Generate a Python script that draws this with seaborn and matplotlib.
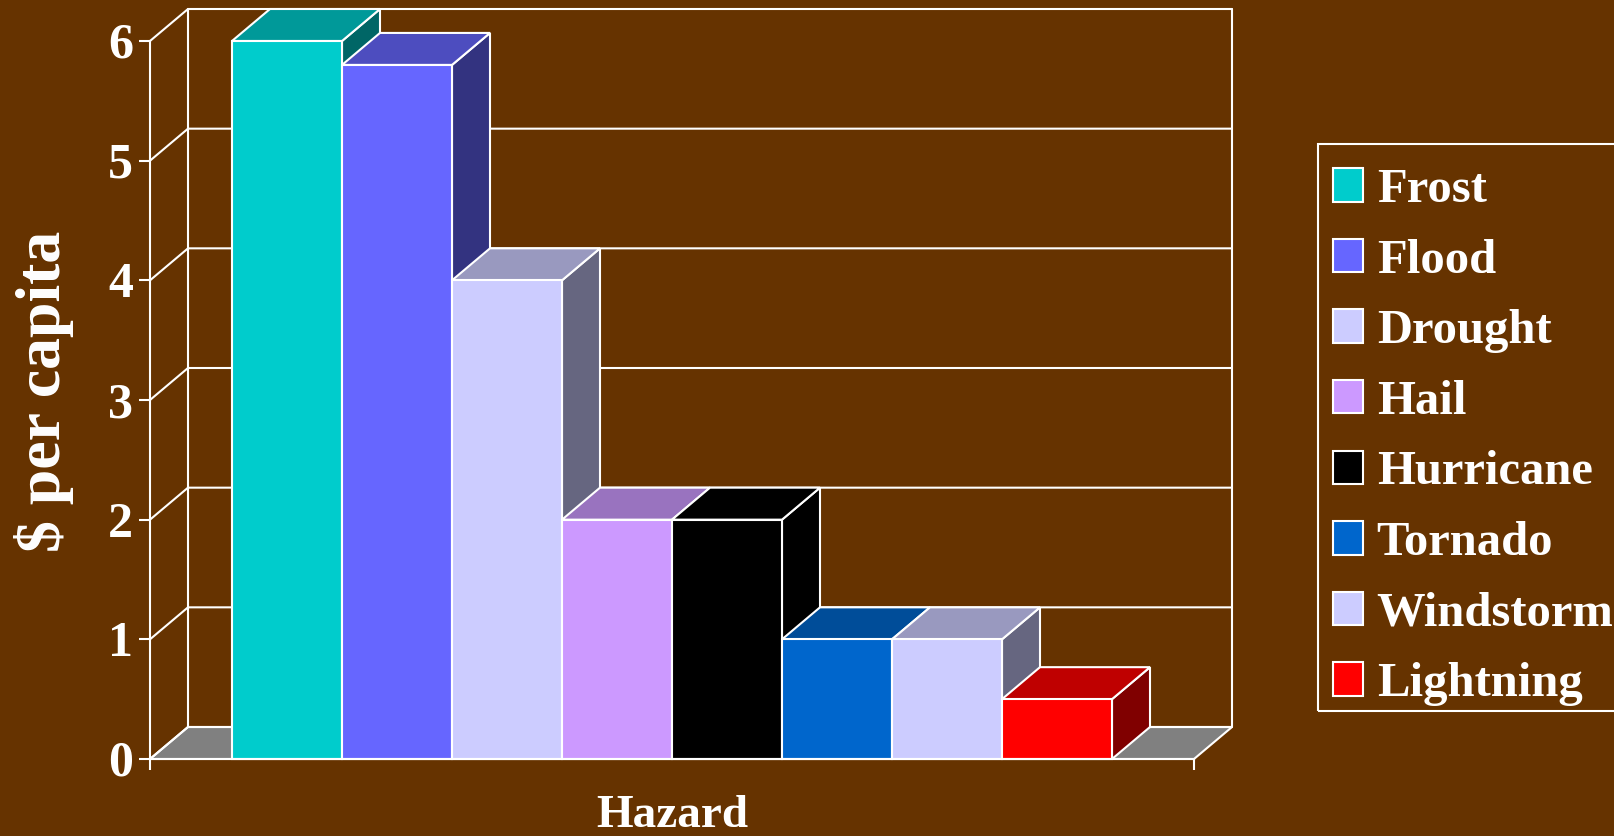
import matplotlib
matplotlib.use("Agg")
import matplotlib.pyplot as plt
import seaborn as sns
from matplotlib.colors import to_rgb
from matplotlib.patches import Polygon, Rectangle
from matplotlib.transforms import ScaledTranslation

hazards = ["Frost", "Flood", "Drought", "Hail", "Hurricane", "Tornado", "Windstorm", "Lightning"]
per_capita = [6, 5.8, 4, 2, 2, 1, 1, 0.5]
colors = ["#00CCCC", "#6666FF", "#CCCCFF", "#CC99FF", "#000000", "#0066CC", "#CCCCFF", "#FF0000"]
y_ticks = [0, 1, 2, 3, 4, 5, 6]

BG = "#663300"
W, H = 1615, 836
sns.set_theme(style="ticks")
plt.rcParams["font.family"] = ["Liberation Serif", "DejaVu Serif"]
plt.rcParams["font.weight"] = "bold"

fig = plt.figure(figsize=(W / 100, H / 100), dpi=100, facecolor=BG)
ax = fig.add_axes([150 / W, 1 - 759 / H, 1044 / W, 718 / H])
ax.set_facecolor("none")

sns.barplot(x=hazards, y=per_capita, hue=hazards, palette=colors, width=1.0, order=hazards,
            hue_order=hazards, edgecolor="white", linewidth=1.5, saturation=1, legend=True, ax=ax)

x0, x1 = -0.5 - 82 / 110, 7.5 + 82 / 110
ax.set_xlim(x0, x1)
ax.set_ylim(0, 6)
dx = 38 * (x1 - x0) / 1044
dy = 32 * 6 / 718
LW = 1.5

# floor, back wall and side wall
ax.add_patch(Polygon([(x0, 0), (x1, 0), (x1 + dx, dy), (x0 + dx, dy)], closed=True, facecolor="#808080",
                     edgecolor="white", linewidth=LW, clip_on=False, zorder=0.5))
for t in y_ticks:
    ax.plot([x0, x0 + dx, x1 + dx], [t, t + dy, t + dy], color="white", lw=LW, clip_on=False,
            zorder=0.6, solid_joinstyle="miter")
ax.plot([x0 + dx, x0 + dx], [dy, 6 + dy], color="white", lw=LW, clip_on=False, zorder=0.6)
ax.plot([x1 + dx, x1 + dx], [dy, 6 + dy], color="white", lw=LW, clip_on=False, zorder=0.6)

# depth faces of every bar
bars = [c[0] for c in ax.containers]
for i, (bar, col) in enumerate(zip(bars, colors)):
    l, w, h = bar.get_x(), bar.get_width(), bar.get_height()
    r = l + w
    rgb = to_rgb(col)
    top = tuple(v * 0.75 for v in rgb)
    side = tuple(v * 0.5 for v in rgb)
    z = 3 + i
    ax.add_patch(Polygon([(r, 0), (r + dx, dy), (r + dx, h + dy), (r, h)], closed=True, facecolor=side,
                         edgecolor="white", linewidth=LW, clip_on=False, zorder=z))
    ax.add_patch(Polygon([(l, h), (l + dx, h + dy), (r + dx, h + dy), (r, h)], closed=True, facecolor=top,
                         edgecolor="white", linewidth=LW, clip_on=False, zorder=z))
    bar.set_zorder(z + 0.5)
    bar.set_clip_on(False)

for s in ["top", "right"]:
    ax.spines[s].set_visible(False)
for s in ["left", "bottom"]:
    ax.spines[s].set_color("white")
    ax.spines[s].set_linewidth(LW)
    ax.spines[s].set_zorder(20)

ax.set_yticks(y_ticks)
ax.set_xticks([x0, x1])
ax.set_xticklabels(["", ""])
ax.tick_params(axis="both", color="white", width=LW, length=8, labelcolor="white", labelsize=36, pad=4)
shift = ScaledTranslation(0, -5 / 100, fig.dpi_scale_trans)
for lab in ax.get_yticklabels():
    lab.set_fontweight("bold")
    lab.set_verticalalignment("center")
    lab.set_transform(lab.get_transform() + shift)

ax.set_xlabel("Hazard", color="white", fontsize=34, fontweight="bold")
ax.xaxis.set_label_coords(0.5, -0.050)
ax.xaxis.label.set_verticalalignment("top")
ax.set_ylabel("\\$ per capita", color="white", fontsize=46, fontweight="bold")
ax.yaxis.set_label_coords(-0.073, 0.5125)

handles, labels = ax.get_legend_handles_labels()
leg = ax.legend(handles, labels, loc="upper left", bbox_to_anchor=(1333 / W, 1 - 168 / H),
                bbox_transform=fig.transFigure, borderaxespad=0, frameon=False,
                prop={"family": "Liberation Serif", "weight": "bold", "size": 35},
                handlelength=0.62, handleheight=0.68, handletextpad=0.28, labelspacing=0.547,
                borderpad=0)
for t in leg.get_texts():
    t.set_color("white")

# legend box runs off the right edge of the picture
fig.add_artist(Rectangle((1318 / W, 1 - 711 / H), 330 / W, 567 / H, transform=fig.transFigure,
                         facecolor="none", edgecolor="white", linewidth=LW))

fig.savefig("out.png", dpi=100, facecolor=BG)
